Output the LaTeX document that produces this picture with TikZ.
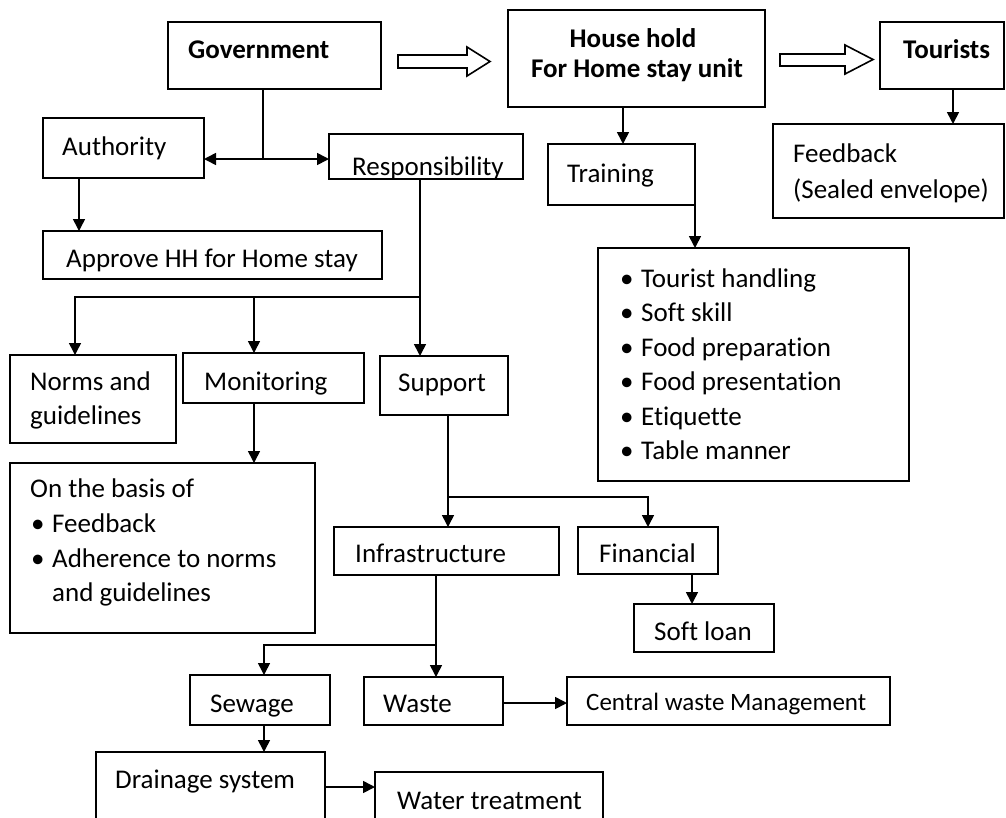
\documentclass[tikz,border=0pt]{standalone}
\usepackage{fontspec}
\setmainfont{Carlito}[Ligatures=NoCommon]
\usetikzlibrary{arrows.meta}
\tikzset{
 box/.style={draw, line width=1.6pt, inner sep=0pt, outer sep=0pt},
 txt/.style={anchor=base west, inner sep=0pt, font=\fontsize{27}{33}\selectfont},
 btxt/.style={anchor=base west, inner sep=0pt, font=\fontsize{27}{33}\selectfont\bfseries},
 conn/.style={line width=1.6pt},
 arr/.style={conn, -{Triangle[length=12pt,width=12pt]}},
 darr/.style={conn, {Triangle[length=12pt,width=12pt]}-{Triangle[length=12pt,width=12pt]}},
 hollow/.style={draw, line width=1.6pt, fill=white, line join=miter},
}
\newcommand\bx[5]{\node[box, minimum width={#4-#2}, minimum height={#5-#3}] (#1) at ({(#2+#4)/2},{(#3+#5)/2}) {};}
\newcommand\bul{\makebox[21pt][l]{\textbullet}}
\begin{document}
\begin{tikzpicture}[x=1pt,y=-1pt]
\useasboundingbox (0,0) rectangle (1006,817);
\fill[white] (0,0) rectangle (1006,817);
\clip (0,0) rectangle (1006,817);
% boxes
\bx{gov}{168}{22}{381}{89}
\bx{hh}{508}{10}{765}{107}
\bx{tour}{880}{22}{1004}{89}
\bx{fb}{773}{124}{1004}{218}
\bx{train}{548}{144}{695}{205}
\bx{list}{598}{248}{909}{481}
\bx{auth}{43}{118}{204}{178}
\bx{resp}{329}{134}{523}{179}
\bx{appr}{43}{231}{382}{279}
\bx{norms}{10}{355}{176}{443}
\bx{mon}{183}{353}{364}{403}
\bx{sup}{380}{356}{508}{415}
\bx{basis}{10}{463}{315}{633}
\bx{infra}{334}{527}{559}{575}
\bx{fin}{578}{527}{718}{574}
\bx{loan}{634}{604}{774}{652}
\bx{sew}{190}{675}{330}{725}
\bx{waste}{364}{677}{503}{725}
\bx{cent}{567}{677}{890}{725}
\bx{drain}{96}{752}{325}{850}
\bx{water}{375}{772}{603}{850}
% texts
\node[btxt] (tgov) at (188,58) {Government};
\node[btxt, anchor=base] (thh1) at (633,47) {House hold};
\node[btxt, anchor=base] (thh2) at (637,77) {For Home stay unit};
\node[btxt] (ttour) at (903,58) {Tourists};
\node[txt] (tfb1) at (793,162) {Feedback};
\node[txt] (tfb2) at (793,198) {(Sealed envelope)};
\node[txt] (ttrain) at (567,182) {Training};
\node[txt] (tl1) at (620,287) {\bul Tourist handling};
\node[txt] (tl2) at (620,321.5) {\bul Soft skill};
\node[txt] (tl3) at (620,356) {\bul Food preparation};
\node[txt] (tl4) at (620,390.5) {\bul Food presentation};
\node[txt] (tl5) at (620,425) {\bul Etiquette};
\node[txt] (tl6) at (620,459.5) {\bul Table manner};
\node[txt] (tauth) at (62,155) {Authority};
\node[txt] (tresp) at (352,175) {Responsibility};
\node[txt, anchor=base] (tappr) at (212,267) {Approve HH for Home stay};
\node[txt] (tnorm1) at (30,390) {Norms and};
\node[txt] (tnorm2) at (30,424) {guidelines};
\node[txt] (tmon) at (204,390) {Monitoring};
\node[txt] (tsup) at (398,391) {Support};
\node[txt] (tb1) at (30,497) {On the basis of};
\node[txt] (tb2) at (31,532) {\bul Feedback};
\node[txt] (tb3) at (31,567) {\bul Adherence to norms};
\node[txt] (tb4) at (52,601) {and guidelines};
\node[txt] (tinf) at (355,562) {Infrastructure};
\node[txt] (tfin) at (599,562) {Financial};
\node[txt, anchor=base] (tloan) at (703,640) {Soft loan};
\node[txt, anchor=base] (tsew) at (252,712) {Sewage};
\node[txt] (twaste) at (383,712) {Waste};
\node[txt, font=\fontsize{25}{30}\selectfont] (tcent) at (586,710) {Central waste Management};
\node[txt] (tdrain) at (115,788) {Drainage system};
\node[txt] (twater) at (397,809) {Water treatment};
% hollow arrows
\draw[hollow] (398,55) -- (467,55) -- (467,47) -- (490,61.5) -- (467,76) -- (467,68) -- (398,68) -- cycle;
\draw[hollow] (780,54) -- (845,54) -- (845,45) -- (873,59.5) -- (845,74) -- (845,66) -- (780,66) -- cycle;
% connectors
\coordinate (j1) at (263,159);
\draw[conn] (gov.south -| j1) -- (j1);
\draw[darr] (auth.east |- j1) -- (resp.west |- j1);
\draw[arr] (79,0 |- auth.south) -- (79,0 |- appr.north);
\coordinate (j2) at (420,297);
\draw[arr] (420,0 |- resp.south) -- (420,0 |- sup.north);
\draw[arr] (j2) -| (75,0 |- norms.north);
\draw[arr] (254,0 |- j2) -- (254,0 |- mon.north);
\draw[arr] (254,0 |- mon.south) -- (254,0 |- basis.north);
\coordinate (j3) at (448,497);
\draw[arr] (448,0 |- sup.south) -- (448,0 |- infra.north);
\draw[arr] (j3) -| (648,0 |- fin.north);
\draw[arr] (692,0 |- fin.south) -- (692,0 |- loan.north);
\coordinate (j4) at (436,645);
\draw[arr] (436,0 |- infra.south) -- (436,0 |- waste.north);
\draw[arr] (j4) -| (264,0 |- sew.north);
\draw[arr] (264,0 |- sew.south) -- (264,0 |- drain.north);
\draw[arr] (waste.east |- 0,703) -- (cent.west |- 0,703);
\draw[arr] (drain.east |- 0,787) -- (water.west |- 0,787);
\draw[arr] (623,0 |- hh.south) -- (623,0 |- train.north);
\draw[arr] (695,0 |- train.south) -- (695,0 |- list.north);
\draw[arr] (953,0 |- tour.south) -- (953,0 |- fb.north);
\end{tikzpicture}
\end{document}
